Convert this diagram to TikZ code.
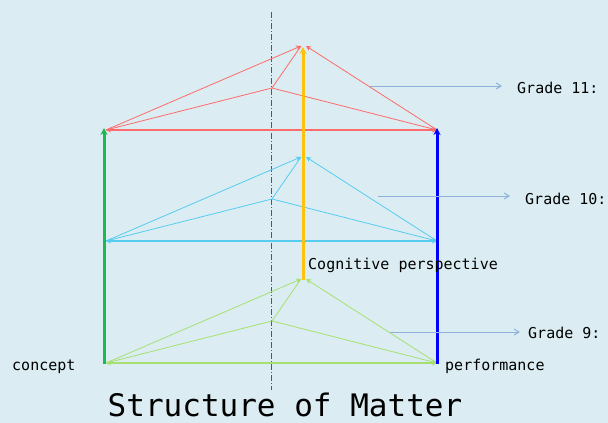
\documentclass[tikz,border=0pt]{standalone}
\usepackage{fontspec}
\setmonofont{DejaVu Sans Mono}
\usetikzlibrary{arrows.meta}
\definecolor{bg}{HTML}{DBEDF2}
\definecolor{redl}{HTML}{FF6A6A}
\definecolor{cyanl}{HTML}{55CCF0}
\definecolor{greenl}{HTML}{A6E070}
\definecolor{gradear}{HTML}{8EB2DA}
\definecolor{gv}{HTML}{1EB850}
\definecolor{yv}{HTML}{FFC20E}
\begin{document}
\begin{tikzpicture}[x=1pt,y=-1pt,
  lab/.style={font=\ttfamily\fontsize{15}{15}\selectfont, anchor=west, inner sep=0pt},
  tri/.style={line width=0.8pt, -{Stealth[length=5pt,width=5pt]}},
  base/.style={line width=1.4pt, {Stealth[length=5pt,width=5pt]}-{Stealth[length=5pt,width=5pt]}},
  vert/.style={line width=3pt, -{Stealth[length=7pt,width=7pt]}},
  gar/.style={gradear, line width=1pt, -{Straight Barb[length=5pt,width=6pt]}}]
\fill[bg] (0,0) rectangle (608,423);
\useasboundingbox (0,0) rectangle (608,423);
% axis
\coordinate (ax1) at (271,12);
\coordinate (ax2) at (271,390);
\draw[black!65, line width=0.8pt, dash pattern=on 6pt off 2pt on 1pt off 2pt] (ax1) -- (ax2);
% levels
\foreach \n/\y/\c in {11/130/redl, 10/241/cyanl, 9/363/greenl}{
  \coordinate (L\n) at (106,\y);
  \coordinate (R\n) at (437,\y);
  \coordinate (Al\n) at (301,\y-84);
  \coordinate (Ar\n) at (306,\y-84);
  \coordinate (M\n) at (272,\y-42);
  \draw[tri,\c] (L\n) -- (Al\n);
  \draw[tri,\c] (R\n) -- (Ar\n);
  \draw[\c, line width=0.8pt] (M\n) -- (Al\n);
  \draw[\c, line width=0.8pt] (M\n) -- (L\n);
  \draw[tri,\c] (M\n) -- (R\n);
  \draw[base,\c] (L\n) -- (R\n);
}
% verticals
\coordinate (gb) at (104,364); \coordinate (gt) at (104,128);
\coordinate (bb) at (437,364); \coordinate (bt) at (437,128);
\coordinate (yb) at (303,280); \coordinate (yt) at (303,47);
\draw[vert, gv] (gb) -- (gt);
\draw[vert, blue] (bb) -- (bt);
\draw[vert, yv] (yb) -- (yt);
% grade labels
\node[lab] (g11) at (517,88) {Grade 11:};
\node[lab] (g10) at (525,199) {Grade 10:};
\node[lab] (g9) at (528,333) {Grade 9:};
\coordinate (s11) at (370,86);
\coordinate (s10) at (378,196);
\coordinate (s9) at (390,332);
\draw[gar] (s11) -- ([xshift=-15pt]g11.west |- s11);
\draw[gar] (s10) -- ([xshift=-15pt]g10.west |- s10);
\draw[gar] (s9) -- ([xshift=-8pt]g9.west |- s9);
% texts
\node[lab] (con) at (12,367) {concept};
\node[lab] (perf) at (445,366) {performance};
\node[lab] (cog) at (308,265) {Cognitive perspective};
\node[font=\ttfamily\fontsize{31}{31}\selectfont, inner sep=0pt] (title) at (285,405) {Structure of Matter};
\end{tikzpicture}
\end{document}
